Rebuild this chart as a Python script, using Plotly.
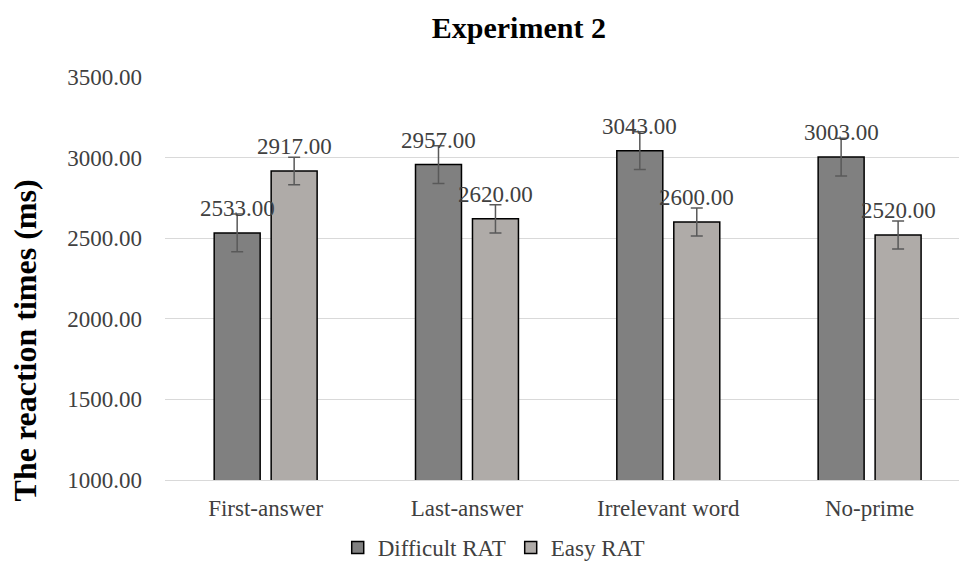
import plotly.graph_objects as go

# data
conditions = ["First-answer", "Last-answer", "Irrelevant word", "No-prime"]
difficult_rt = [2533, 2957, 3043, 3003]
easy_rt = [2917, 2620, 2600, 2520]
difficult_err = [117, 117, 117, 117]
easy_err = [85, 87, 87, 87]
y_ticks = [1000, 1500, 2000, 2500, 3000, 3500]

SERIF = "Liberation Serif, Times New Roman, serif"
TXT = "#404040"

fig = go.Figure()

fig.add_trace(go.Bar(
    x=conditions, y=difficult_rt, name="Difficult RAT",
    marker=dict(color="#808080", line=dict(color="#000000", width=1.5)),
    error_y=dict(type="data", array=difficult_err, color="#595959", thickness=1.5, width=6),
))
fig.add_trace(go.Bar(
    x=conditions, y=easy_rt, name="Easy RAT",
    marker=dict(color="#afaba8", line=dict(color="#000000", width=1.5)),
    error_y=dict(type="data", array=easy_err, color="#595959", thickness=1.5, width=6),
))

# value labels above each bar (Excel style, overlapping the error bar)
offset_px = 28.5
for vals, shift in ((difficult_rt, -offset_px), (easy_rt, offset_px)):
    for cat, v in zip(conditions, vals):
        fig.add_annotation(
            x=cat, y=v, xshift=shift, yshift=10,
            text=f"{v:.2f}", showarrow=False, yanchor="bottom",
            font=dict(family=SERIF, size=23, color=TXT),
        )

# y axis title sits a bit below the plot's middle in the original
fig.add_annotation(
    xref="paper", yref="paper", x=-0.176, y=0.347,
    text="<b>The reaction times (ms)</b>", textangle=-90, showarrow=False,
    xanchor="center", yanchor="middle",
    font=dict(family=SERIF, size=32, color="#000000"),
)

fig.update_layout(
    width=959, height=569,
    margin=dict(l=165, r=0, t=77, b=89),
    paper_bgcolor="white", plot_bgcolor="white",
    title=dict(text="<b>Experiment 2</b>", x=0.541, xanchor="center",
               y=0.952, yanchor="middle",
               font=dict(family=SERIF, size=30, color="#000000")),
    barmode="group", bargap=0.434, bargroupgap=0.193,
    font=dict(family=SERIF, size=23, color=TXT),
    legend=dict(orientation="h", x=0.414, xanchor="center", y=-0.168, yanchor="middle",
                font=dict(family=SERIF, size=23, color=TXT), itemwidth=30,
                tracegroupgap=0),
    showlegend=True,
)

fig.update_yaxes(
    range=[1000, 3500], tickvals=y_ticks, tickformat=".2f",
    showgrid=True, gridcolor="#d9d9d9", gridwidth=1, zeroline=False,
    ticks="", ticklen=0, ticklabelstandoff=22,
    tickfont=dict(family=SERIF, size=23, color=TXT),
)
fig.update_xaxes(
    range=[-0.5, 3.444],
    showline=True, linecolor="#d9d9d9", linewidth=1,
    ticks="", ticklabelstandoff=7,
    tickfont=dict(family=SERIF, size=23, color=TXT),
)

fig.write_html(
    "out.html",
    config={"displayModeBar": False},
    post_script="document.body.style.margin='0';document.body.style.overflow='hidden';",
)
